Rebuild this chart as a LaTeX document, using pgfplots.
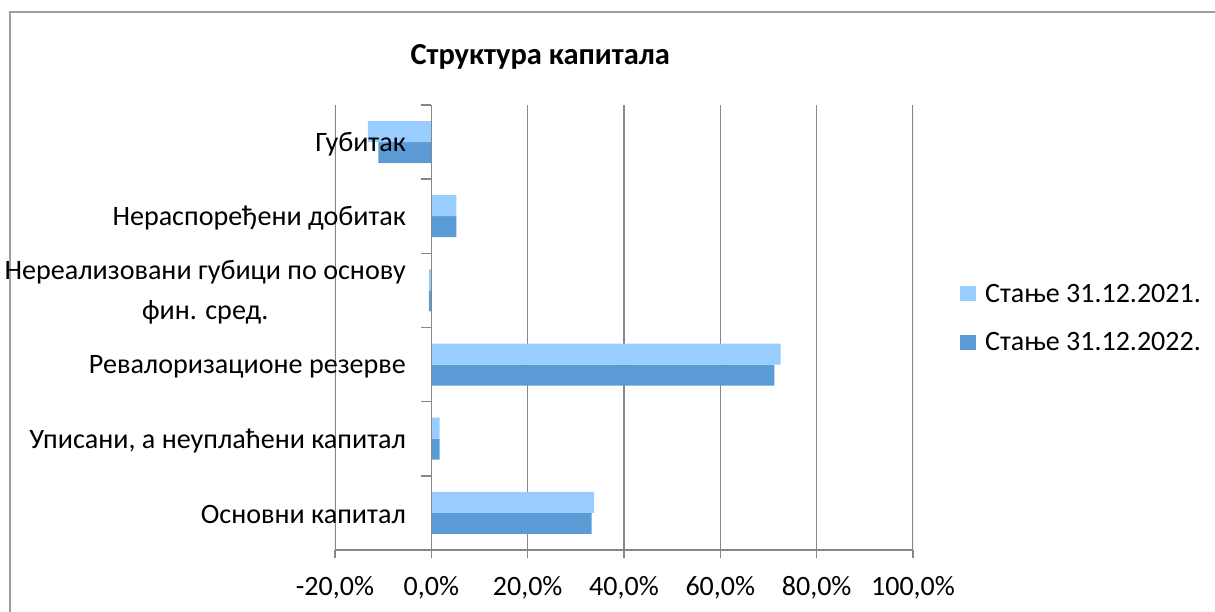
\documentclass[border=0pt]{standalone}
\usepackage{pgfplots}
\pgfplotsset{compat=1.18}
\usepackage{fontspec}
\setmainfont{Carlito}
\definecolor{c21}{HTML}{99CCFF}
\definecolor{c22}{HTML}{5B9BD5}
\definecolor{gridc}{HTML}{878787}
\begin{document}
\begin{tikzpicture}[x=1pt,y=1pt]
\path[use as bounding box] (0,0) rectangle (1215,612);
\draw[gridc!80,line width=1.5pt] (10,0) -- (10,600) -- (1215,600);
\begin{axis}[
  axis on top,
  at={(335pt,62pt)}, anchor=south west,
  scale only axis, width=578pt, height=445pt,
  xmin=-20, xmax=100, ymin=-0.5, ymax=5.5,
  axis x line*=bottom, axis y line*=middle,
  hide obscured x ticks=false,
  xbar=0pt, bar width=21pt,
  xtick={-20,0,20,40,60,80,100},
  xticklabels={{-20,0\%},{0,0\%},{20,0\%},{40,0\%},{60,0\%},{80,0\%},{100,0\%}},
  ytick={0,1,2,3,4,5},
  yticklabels={{Основни капитал},{Уписани, а неуплаћени капитал},{Ревалоризационе резерве},{Нереализовани губици по основу\\фин. сред.},{Нераспоређени добитак},{Губитак}},
  minor ytick={-0.5,0.5,1.5,2.5,3.5,4.5,5.5},
  tick align=outside, major tick length=8pt, minor tick length=10pt,
  major y tick style={draw=none},
  minor y tick style={gridc, line width=1.5pt},
  major x tick style={gridc, line width=1.5pt},
  axis line style={gridc, line width=1.5pt},
  xticklabel style={font=\fontsize{28}{34}\selectfont, yshift=-15pt},
  yticklabel style={font=\fontsize{28.1}{40}\selectfont, align=center, xshift=-14pt, yshift=-2pt},
  title={\textbf{Структура капитала}},
  title style={font=\fontsize{30.5}{36}\selectfont, at={(rel axis cs:0.355,1.094)}, anchor=center},
  reverse legend,
  legend style={at={(rel axis cs:1.076,0.521)}, anchor=west, draw=none, fill=none,
    font=\fontsize{28}{34}\selectfont, row sep=25pt,
    legend cell align=left},
  legend image code/.code={\fill[#1,draw=none] (0pt,-7.5pt) rectangle (16pt,7.5pt); \path (23pt,0pt);},
]
\pgfplotsinvokeforeach{-20,20,40,60,80,100}{
  \draw[gridc, line width=1.5pt] (axis cs:#1,-0.5) -- (axis cs:#1,5.5);
}
\addplot[fill=c22, draw=none] coordinates {(33.3,0) (1.7,1) (71.2,2) (-0.5,3) (5.2,4) (-11.0,5)};
\addplot[fill=c21, draw=none] coordinates {(33.8,0) (1.7,1) (72.5,2) (-0.5,3) (5.2,4) (-13.2,5)};
\legend{Стање 31.12.2022.,Стање 31.12.2021.}
\end{axis}
\end{tikzpicture}
\end{document}
